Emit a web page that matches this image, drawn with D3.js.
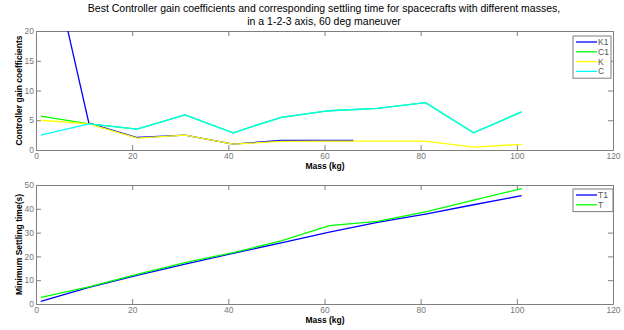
<!DOCTYPE html>
<html>
<head>
<meta charset="utf-8">
<script src="https://cdn.jsdelivr.net/npm/d3@7"></script>
<style>
  body { margin: 0; background: #fff; }
  text { font-family: "Liberation Sans", Arial, sans-serif; }
</style>
</head>
<body>
<div id="chart"></div>
<script>
var svgWidth = 624;
var svgHeight = 330;

// data
var masses = [1, 11, 21, 31, 41, 51, 61, 71, 81, 91, 101];
var k1Masses = [1, 11, 21, 31, 41, 51, 66];
var K1 = [40, 4.5, 2.1, 2.5, 1.0, 1.6, 1.6];
var C1 = [5.7, 4.4, 3.5, 5.9, 2.9, 5.5, 6.6, 7.0, 7.95, 2.9, 6.4];
var K = [5.0, 4.4, 2.0, 2.5, 1.0, 1.45, 1.5, 1.5, 1.5, 0.5, 0.95];
var C = [2.5, 4.4, 3.5, 5.9, 2.9, 5.5, 6.6, 7.0, 7.95, 2.9, 6.4];
var T1 = [1.1, 7.0, 12.0, 16.8, 21.3, 25.7, 30.2, 34.3, 37.8, 41.7, 45.5];
var T = [2.8, 7.2, 12.4, 17.4, 21.6, 26.5, 32.9, 34.7, 38.7, 43.6, 48.5];
var xTicks = [0, 20, 40, 60, 80, 100, 120];
var topYTicks = [0, 5, 10, 15, 20];
var bottomYTicks = [0, 10, 20, 30, 40, 50];
var titleLines = ["Best Controller gain coefficients and corresponding settling time for spacecrafts with different masses,",
                  "in a 1-2-3 axis, 60 deg maneuver"];

var svg = d3.select("#chart")
  .append("svg")
  .attr("width", svgWidth)
  .attr("height", svgHeight);

svg.append("rect").attr("width", svgWidth).attr("height", svgHeight).attr("fill", "#fff");

svg.selectAll(".title")
  .data(titleLines)
  .enter()
  .append("text")
  .attr("x", 324)
  .attr("y", (d, i) => 12 + i * 13)
  .attr("text-anchor", "middle")
  .attr("font-size", "10.5px")
  .attr("fill", "#000")
  .text(d => d);

function drawPanel(opts) {
  var left = 36, right = 613;
  var x = d3.scaleLinear().domain([0, 120]).range([left, right]);
  var y = d3.scaleLinear().domain(opts.yDomain).range([opts.bottom, opts.top]);
  var g = svg.append("g");

  var axisColor = "#7f7f7f";
  var tick = 5;

  // box axes with ticks pointing inside
  var bx = g.append("g")
    .attr("transform", `translate(0, ${opts.bottom})`)
    .call(d3.axisBottom(x).tickValues(xTicks).tickSizeInner(-tick).tickSizeOuter(0).tickPadding(3));
  var tx = g.append("g")
    .attr("transform", `translate(0, ${opts.top})`)
    .call(d3.axisTop(x).tickValues(xTicks).tickSizeInner(-tick).tickSizeOuter(0).tickFormat(""));
  var ly = g.append("g")
    .attr("transform", `translate(${left}, 0)`)
    .call(d3.axisLeft(y).tickValues(opts.yTicks).tickSizeInner(-tick).tickSizeOuter(0).tickPadding(2));
  var ry = g.append("g")
    .attr("transform", `translate(${right}, 0)`)
    .call(d3.axisRight(y).tickValues(opts.yTicks).tickSizeInner(-tick).tickSizeOuter(0).tickFormat(""));

  [bx, tx, ly, ry].forEach(function(a) {
    a.select(".domain").attr("stroke", axisColor);
    a.selectAll(".tick line").attr("stroke", axisColor);
    a.selectAll(".tick text").attr("fill", "#777").attr("font-size", "8.5px")
      .attr("font-family", "Liberation Sans, Arial, sans-serif");
  });

  var clipId = "clip" + opts.top;
  g.append("clipPath").attr("id", clipId)
    .append("rect").attr("x", left).attr("y", opts.top)
    .attr("width", right - left).attr("height", opts.bottom - opts.top);

  var lineGen = d3.line().x(d => x(d[0])).y(d => y(d[1]));
  opts.series.forEach(function(s) {
    g.append("path")
      .datum(s.xs.map((m, i) => [m, s.ys[i]]))
      .attr("clip-path", `url(#${clipId})`)
      .attr("fill", "none")
      .attr("stroke", s.color)
      .attr("stroke-width", 1.3)
      .attr("d", lineGen);
  });

  // axis labels
  g.append("text")
    .attr("x", 325)
    .attr("y", opts.bottom + 19)
    .attr("text-anchor", "middle")
    .attr("font-size", "8.5px")
    .attr("font-weight", "bold")
    .text("Mass (kg)");
  g.append("text")
    .attr("transform", `translate(22, ${(opts.top + opts.bottom) / 2}) rotate(-90)`)
    .attr("text-anchor", "middle")
    .attr("font-size", "8.5px")
    .attr("font-weight", "bold")
    .text(opts.yLabel);

  // legend
  var lg = g.append("g");
  lg.append("rect")
    .attr("x", opts.legend.x).attr("y", opts.legend.y)
    .attr("width", opts.legend.w).attr("height", opts.series.length * 9.8 + 3)
    .attr("fill", "#fff").attr("stroke", "#7f7f7f");
  opts.series.forEach(function(s, i) {
    var ly0 = opts.legend.y + 6 + i * 9.8;
    lg.append("line")
      .attr("x1", opts.legend.x + 3).attr("x2", opts.legend.x + 24)
      .attr("y1", ly0).attr("y2", ly0)
      .attr("stroke", s.color).attr("stroke-width", 1.3);
    lg.append("text")
      .attr("x", opts.legend.x + 25).attr("y", ly0 + 3)
      .attr("font-size", "8.5px").attr("fill", "#555")
      .text(s.name);
  });
}

drawPanel({
  top: 31, bottom: 150, yDomain: [0, 20], yTicks: topYTicks,
  yLabel: "Controller gain coefficients",
  legend: {x: 573, y: 36, w: 38},
  series: [
    {name: "K1", xs: k1Masses, ys: K1, color: "#0000ff"},
    {name: "C1", xs: masses, ys: C1, color: "#00ff00"},
    {name: "K", xs: masses, ys: K, color: "#ffff00"},
    {name: "C", xs: masses, ys: C, color: "#00ffff"}
  ]
});

drawPanel({
  top: 185, bottom: 304, yDomain: [0, 50], yTicks: bottomYTicks,
  yLabel: "Minimum Settling time(s)",
  legend: {x: 573, y: 189, w: 40},
  series: [
    {name: "T1", xs: masses, ys: T1, color: "#0000ff"},
    {name: "T", xs: masses, ys: T, color: "#00ff00"}
  ]
});
</script>
</body>
</html>
